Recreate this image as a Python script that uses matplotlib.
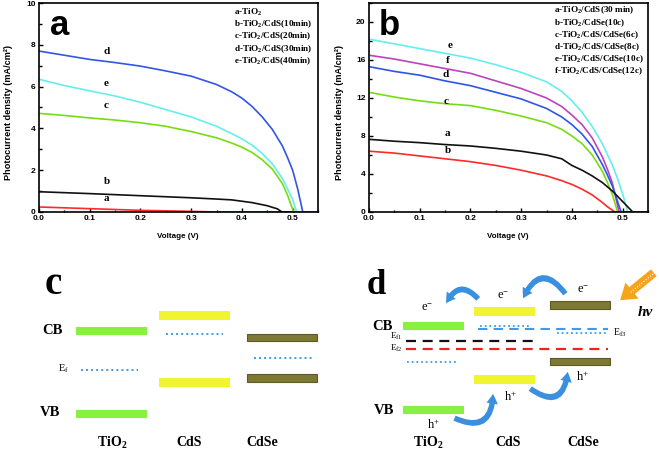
import matplotlib

matplotlib.use("Agg")
import matplotlib.pyplot as plt
from matplotlib.patches import FancyArrowPatch, Rectangle
from matplotlib.ticker import MultipleLocator

plt.rcParams["mathtext.fontset"] = "custom"
plt.rcParams["mathtext.rm"] = "Liberation Serif:bold"
plt.rcParams["mathtext.it"] = "Liberation Serif:italic:bold"
plt.rcParams["mathtext.bf"] = "Liberation Serif:bold"

SANS = "Liberation Sans"
SERIF = "Liberation Serif"
W, H = 659, 455

# ---- panel a: TiO2 / CdS J-V curves ----
A_LABELS = ["a-TiO$_2$", "b-TiO$_2$/CdS(10min)", "c-TiO$_2$/CdS(20min)",
            "d-TiO$_2$/CdS(30min)", "e-TiO$_2$/CdS(40min)"]
A_V = {
    "a": [0, 0.1, 0.2, 0.3, 0.35, 0.55],
    "b": [0, 0.1, 0.2, 0.3, 0.35, 0.38, 0.42, 0.45, 0.47, 0.479, 0.55],
    "c": [0, 0.05, 0.1, 0.15, 0.2, 0.25, 0.3, 0.35, 0.38, 0.4, 0.42, 0.44,
          0.46, 0.48, 0.49, 0.502, 0.55],
    "e": [0, 0.05, 0.1, 0.15, 0.2, 0.25, 0.3, 0.35, 0.38, 0.4, 0.42, 0.44,
          0.46, 0.48, 0.49, 0.5, 0.508, 0.55],
    "d": [0, 0.05, 0.1, 0.15, 0.2, 0.25, 0.3, 0.35, 0.38, 0.4, 0.42, 0.44,
          0.46, 0.48, 0.49, 0.5, 0.51, 0.52, 0.55],
}
A_J = {
    "a": [0.24, 0.16, 0.08, 0.03, 0, 0],
    "b": [0.97, 0.88, 0.78, 0.68, 0.62, 0.58, 0.45, 0.3, 0.15, 0, 0],
    "c": [4.72, 4.62, 4.5, 4.4, 4.27, 4.1, 3.85, 3.55, 3.3, 3.1, 2.85, 2.5,
          2.05, 1.35, 0.8, 0, 0],
    "e": [6.35, 6.05, 5.8, 5.55, 5.25, 4.9, 4.55, 4.1, 3.75, 3.5, 3.2, 2.8,
          2.3, 1.6, 1.1, 0.6, 0, 0],
    "d": [7.7, 7.5, 7.3, 7.15, 6.98, 6.75, 6.5, 6.1, 5.75, 5.45, 5.05, 4.55,
          3.95, 3.15, 2.6, 2.0, 1.1, 0, 0],
}
A_COLORS = {"a": "#ff2a2a", "b": "#111111", "c": "#77dd11", "e": "#66eeee", "d": "#3355e6"}
A_TAGS = {"d": (0.133, 7.45), "e": (0.133, 5.95), "c": (0.133, 4.9),
          "b": (0.133, 1.25), "a": (0.133, 0.45)}

# ---- panel b: co-sensitised J-V curves ----
B_LABELS = ["a-TiO$_2$/CdS(30 min)", "b-TiO$_2$/CdSe(10c)", "c-TiO$_2$/CdS/CdSe(6c)",
            "d-TiO$_2$/CdS/CdSe(8c)", "e-TiO$_2$/CdS/CdSe(10c)", "f-TiO$_2$/CdS/CdSe(12c)"]
B_V = {
    "e": [0, 0.05, 0.1, 0.15, 0.2, 0.25, 0.3, 0.35, 0.38, 0.4, 0.42, 0.44,
          0.46, 0.48, 0.49, 0.5, 0.51, 0.55],
    "f": [0, 0.05, 0.1, 0.15, 0.2, 0.25, 0.3, 0.35, 0.38, 0.4, 0.42, 0.44,
          0.46, 0.47, 0.48, 0.493, 0.55],
    "d": [0, 0.05, 0.1, 0.15, 0.2, 0.25, 0.3, 0.35, 0.38, 0.4, 0.42, 0.44,
          0.46, 0.47, 0.48, 0.497, 0.55],
    "c": [0, 0.05, 0.1, 0.15, 0.2, 0.25, 0.3, 0.35, 0.38, 0.4, 0.42, 0.44,
          0.46, 0.47, 0.48, 0.49, 0.55],
    "a": [0, 0.05, 0.1, 0.15, 0.2, 0.25, 0.3, 0.35, 0.38, 0.4, 0.42, 0.44,
          0.46, 0.48, 0.5, 0.52, 0.55],
    "b": [0, 0.05, 0.1, 0.15, 0.2, 0.25, 0.3, 0.35, 0.38, 0.4, 0.42, 0.44,
          0.46, 0.47, 0.485, 0.55],
}
B_J = {
    "e": [18.2, 17.7, 17.2, 16.7, 16.2, 15.5, 14.7, 13.7, 12.7, 11.7, 10.5, 9.0,
          7.2, 4.9, 3.5, 1.9, 0, 0],
    "f": [16.5, 16.1, 15.6, 15.1, 14.6, 13.8, 13.0, 12.0, 11.1, 10.2, 9.2, 7.8,
          5.8, 4.5, 3.0, 0, 0],
    "d": [15.3, 14.8, 14.4, 13.8, 13.3, 12.6, 11.9, 10.9, 10.0, 9.2, 8.2, 6.9,
          5.0, 3.9, 2.7, 0, 0],
    "c": [12.6, 12.1, 11.7, 11.4, 11.2, 10.7, 10.1, 9.4, 8.7, 8.0, 7.2, 6.0,
          4.3, 3.1, 1.8, 0, 0],
    "a": [7.65, 7.45, 7.3, 7.1, 6.95, 6.7, 6.4, 6.0, 5.6, 4.9, 4.4, 3.8,
          3.1, 2.2, 1.1, 0, 0],
    "b": [6.4, 6.2, 5.9, 5.6, 5.3, 4.9, 4.4, 3.8, 3.3, 2.9, 2.4, 1.8,
          1.0, 0.55, 0, 0],
}
B_COLORS = {"e": "#66eeee", "f": "#bb44bb", "d": "#2f55e8", "c": "#77dd11",
            "a": "#111111", "b": "#ff2a2a"}
B_TAGS = {"e": (0.16, 17.1), "f": (0.155, 15.5), "d": (0.152, 14.0),
          "c": (0.152, 11.2), "a": (0.155, 7.8), "b": (0.155, 6.0)}

# ---- panels c, d: band diagrams (pixel layout of the figure) ----
MATERIALS = ["TiO$_2$", "CdS", "CdSe"]
GREEN, YELLOW, OLIVE = "#88f040", "#f0f530", "#7d7935"
BLUE_DOT = "#3d9be9"


def jv_axes(rect, curves_v, curves_j, colors, tags, labels, ymax, ymajor, letter, leg):
    ax = fig.add_axes(rect)
    for k in curves_v:
        ax.plot(curves_v[k], curves_j[k], color=colors[k], lw=1.2)
    for k, (x, y) in tags.items():
        ax.text(x, y, k, fontsize=8, fontweight="bold", family=SERIF, ha="center",
                va="bottom")
    x0, y0, dy = leg
    for i, lab in enumerate(labels):
        ax.text(x0, y0 - i * dy, lab, fontsize=6.6, fontweight="bold", family=SERIF,
                va="center")
    ax.text(0.04, ymax * 0.89, letter, fontsize=25, fontweight="bold", family=SANS,
            ha="center", va="center")
    ax.set_xlim(0, 0.55)
    ax.set_ylim(0, ymax)
    ax.xaxis.set_minor_locator(MultipleLocator(0.05))
    ax.yaxis.set_major_locator(MultipleLocator(ymajor))
    ax.yaxis.set_minor_locator(MultipleLocator(ymajor / 2))
    ax.set_xticks([0, 0.1, 0.2, 0.3, 0.4, 0.5])
    ax.set_xticklabels(["0.0", "0.1", "0.2", "0.3", "0.4", "0.5"])
    ax.tick_params(which="both", direction="in", width=1, labelsize=6, pad=2.5)
    ax.tick_params(which="major", length=3)
    ax.tick_params(which="minor", length=1.8)
    for t in ax.get_xticklabels() + ax.get_yticklabels():
        t.set_fontweight("bold")
        t.set_family(SANS)
    for s in ax.spines.values():
        s.set_linewidth(1.2)
    return ax


fig = plt.figure(figsize=(W / 100, H / 100), dpi=100, facecolor="white")

jv_axes([39 / W, 1 - 212 / H, 279 / W, 209 / H], A_V, A_J, A_COLORS, A_TAGS, A_LABELS,
        10, 2, "a", (0.384, 9.55, 0.58))
jv_axes([369 / W, 1 - 212 / H, 279 / W, 209 / H], B_V, B_J, B_COLORS, B_TAGS, B_LABELS,
        22, 4, "b", (0.364, 21.2, 1.28))

for cx, lx in [(178, 9), (508, 339)]:
    fig.text(cx / W, 1 - 236 / H, "Voltage (V)", fontsize=5.8, fontweight="bold",
             family=SANS, ha="center", va="center")
    fig.text(lx / W, 1 - 112 / H, "Photocurrent density (mA/cm²)", fontsize=6.6,
             fontweight="bold", family=SANS, rotation=90, ha="center", va="center")

# overlay in pixel coordinates for the schematic panels
ov = fig.add_axes([0, 0, 1, 1], zorder=-1)
ov.set_xlim(0, W)
ov.set_ylim(H, 0)
ov.axis("off")


def bar(x0, x1, y0, y1, color, edge=None):
    ov.add_patch(Rectangle((x0, y0), x1 - x0, y1 - y0, facecolor=color,
                           edgecolor=edge or color, lw=0.8))


def txt(x, y, s, size, **kw):
    kw.setdefault("fontweight", "bold")
    ov.text(x, y, s, fontsize=size, family=SERIF, ha="center", va="center", **kw)


# panel c
bar(76, 146, 327, 334, GREEN)
bar(76, 146, 410, 417, GREEN)
bar(159, 229, 311, 319, YELLOW)
bar(159, 229, 378, 386, YELLOW)
bar(247, 317, 334, 341, OLIVE, "#5d5a22")
bar(247, 317, 374, 382, OLIVE, "#5d5a22")
for x0, x1, y in [(81, 138, 370), (166, 223, 334), (254, 312, 358)]:
    ov.plot([x0, x1], [y, y], color=BLUE_DOT, lw=1.4, ls=(0, (1, 1.6)))
txt(53, 285, "c", 28)
txt(52, 330, "CB", 10.5)
txt(50, 413, "VB", 10.5)
txt(63, 369, "E$_\\mathregular{f}$", 7.5, fontweight="normal")
for x, m in zip([112, 189, 262], MATERIALS):
    txt(x, 443, m, 10)

# panel d
bar(403, 463, 322, 329, GREEN)
bar(403, 463, 406, 413, GREEN)
bar(474, 534, 307, 315, YELLOW)
bar(474, 534, 375, 383, YELLOW)
bar(550, 610, 301, 309, OLIVE, "#5d5a22")
bar(550, 610, 358, 365, OLIVE, "#5d5a22")
for x0, x1, y in [(480, 530, 326), (557, 607, 333), (407, 457, 362)]:
    ov.plot([x0, x1], [y, y], color=BLUE_DOT, lw=1.3, ls=(0, (1, 1.6)))
ov.plot([478, 608], [329, 329], color=BLUE_DOT, lw=1.5, ls=(0, (4.5, 3)))
ov.plot([406, 536], [341, 341], color="#111111", lw=1.6, ls=(0, (4.5, 3)))
ov.plot([406, 608], [349, 349], color="#ee2222", lw=1.6, ls=(0, (4.5, 3)))
txt(376, 286, "d", 25)
txt(382, 327, "CB", 10.5)
txt(384, 410, "VB", 10.5)
txt(396, 336, "E$_\\mathregular{f1}$", 6.5, fontweight="normal")
txt(396, 348, "E$_\\mathregular{f2}$", 6.5, fontweight="normal")
txt(620, 333, "E$_\\mathregular{f3}$", 7, fontweight="normal")
for x, m in zip([428, 508, 583], MATERIALS):
    txt(x, 443, m, 10)

arrow_kw = dict(arrowstyle="simple,head_width=0.6,head_length=0.5,tail_width=0.28",
                mutation_scale=14, color="#3b8fdf", lw=0)
for start, end, rad in [((480, 301), (445, 306), 0.8), ((567, 296), (522, 301), 0.9),
                        ((452, 417), (493, 391), 0.8), ((528, 387), (568, 369), 0.9)]:
    ov.add_patch(FancyArrowPatch(start, end, connectionstyle=f"arc3,rad={rad}", **arrow_kw))
for x, y in [(427, 308), (503, 296), (583, 290)]:
    txt(x, y, "e$^{\\mathregular{-}}$", 9, fontweight="normal")
for x, y in [(433, 425), (510, 397), (582, 377)]:
    txt(x, y, "h$^{\\mathregular{+}}$", 9, fontweight="normal")
ov.add_patch(FancyArrowPatch((656, 271), (618, 302),
                             arrowstyle="simple,head_width=0.75,head_length=0.55,tail_width=0.32",
                             mutation_scale=20, color="#f5a41c", lw=0))
ov.plot([653, 630], [274, 293], color="white", lw=0.8, ls=(0, (1, 1.5)))
txt(645, 312, "hv", 11, fontstyle="italic")

fig.savefig("out.png", dpi=100, facecolor="white")
